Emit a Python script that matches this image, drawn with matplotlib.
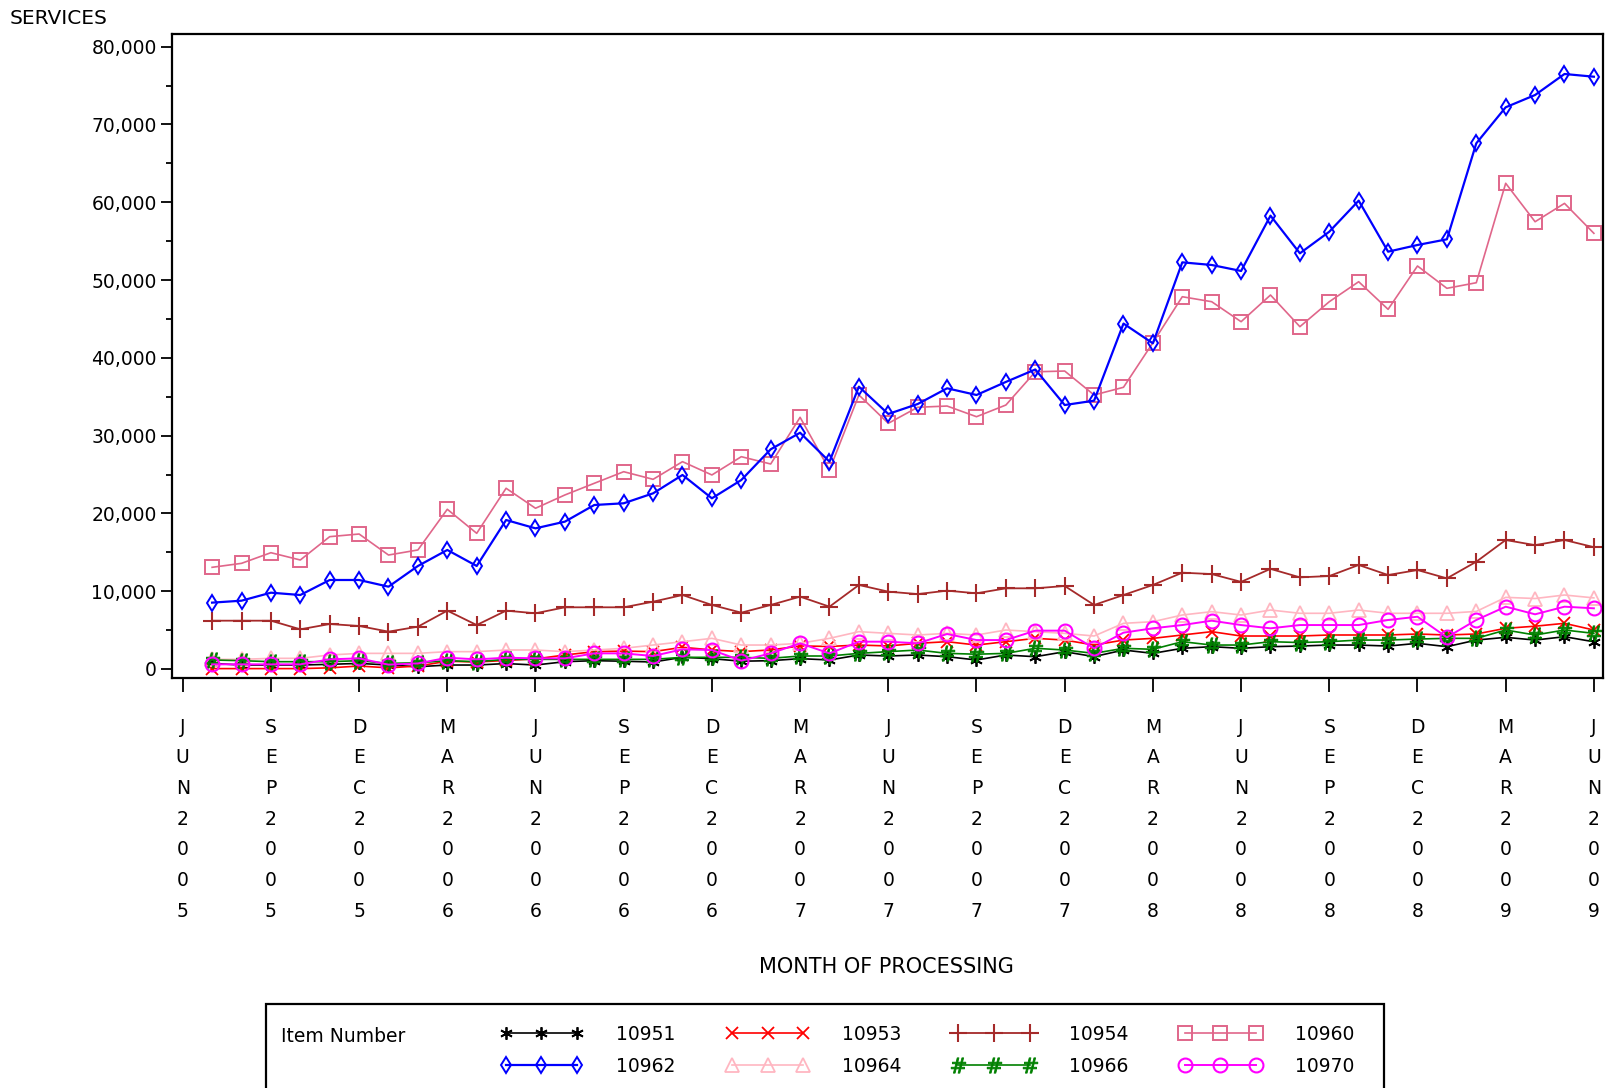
import numpy as np
import pandas as pd
import matplotlib
matplotlib.use("Agg")
import matplotlib.pyplot as plt
from matplotlib.lines import Line2D
from matplotlib.patches import Rectangle
from matplotlib.ticker import FuncFormatter, MultipleLocator

plt.rcParams["font.family"] = ["DejaVu Sans"]

# ---- data: monthly service counts per item number ----
months = pd.period_range("2005-07", "2009-06", freq="M")
tick_months = pd.period_range("2005-06", "2009-06", freq="M")[::3]

svc_10951 = [720, 510, 510, 510, 600, 720, 510, 290, 510, 510, 700, 510,
             940, 1070, 1000, 900, 1500, 1330, 1000, 1070, 1330, 1160, 1800, 1670,
             1800, 1580, 1160, 1800, 1580, 2220, 1590, 2440, 2010, 2660, 2870, 2660,
             2870, 2950, 3080, 3080, 2950, 3300, 2870, 3720, 4070, 3720, 4150, 3500]
svc_10953 = [50, 50, 50, 50, 150, 380, 150, 380, 1000, 900, 1100, 1300,
             1800, 2230, 2300, 2230, 2790, 2450, 2230, 2450, 2960, 2900, 3080, 2960,
             3300, 3510, 3080, 3510, 3940, 3720, 3080, 3720, 3940, 4370, 4800, 4240,
             4240, 4240, 4370, 4370, 4370, 4500, 4370, 4500, 5230, 5500, 5870, 5010]
svc_10954 = [6210, 6210, 6210, 5100, 5780, 5530, 4800, 5440, 7500, 5650, 7500, 7160,
             7930, 7930, 7930, 8650, 9510, 8230, 7240, 8230, 9300, 8010, 10800, 9940,
             9630, 10070, 9730, 10370, 10370, 10670, 8230, 9510, 10800, 12380, 12200, 11200,
             12870, 11780, 11950, 13370, 12080, 12720, 11650, 13790, 16580, 15920, 16580, 15660]
svc_10960 = [13070, 13580, 14950, 14010, 17010, 17350, 14650, 15300, 20530, 17440, 23230, 20660,
             22370, 23870, 25360, 24380, 26650, 24940, 27290, 26350, 32350, 25580, 35220, 31580,
             33640, 33800, 32430, 33930, 38200, 38300, 35220, 36210, 41940, 47850, 47210, 44640,
             48070, 44000, 47210, 49780, 46230, 51800, 48930, 49650, 62430, 57490, 59850, 56000]
svc_10962 = [8530, 8780, 9810, 9510, 11440, 11440, 10580, 13240, 15300, 13240, 19150, 18080,
             18940, 21080, 21300, 22580, 24940, 21940, 24290, 28240, 30370, 26650, 36290, 32780,
             34060, 36080, 35220, 36900, 38500, 33930, 34490, 44400, 41860, 52270, 51930, 51160,
             58270, 53430, 56210, 60200, 53640, 54500, 55230, 67570, 72200, 73780, 76480, 76130]
svc_10964 = [1240, 1240, 1370, 1370, 1800, 2010, 2010, 2010, 2230, 2230, 2440, 2440,
             2230, 2440, 2660, 3080, 3510, 3940, 3080, 3080, 3300, 3940, 4800, 4580,
             4370, 4580, 4370, 5010, 4800, 4580, 4240, 5870, 6080, 6940, 7370, 6940,
             7580, 7160, 7160, 7580, 7160, 7160, 7160, 7400, 9210, 9060, 9510, 9140]
svc_10966 = [1160, 1070, 940, 940, 940, 1070, 720, 800, 1070, 940, 1240, 1240,
             1240, 1240, 1240, 1240, 1500, 1500, 1500, 1370, 1670, 1670, 2010, 2230,
             2440, 2010, 1900, 2010, 2660, 2440, 2010, 2660, 2530, 3510, 3080, 3080,
             3510, 3400, 3510, 3720, 3720, 3850, 3940, 3940, 5010, 4370, 5010, 4580]
svc_10970 = [600, 600, 600, 600, 1240, 1370, 560, 720, 1450, 1240, 1450, 1370,
             1370, 2010, 2010, 1670, 2530, 2440, 1070, 2010, 3300, 2010, 3510, 3510,
             3300, 4500, 3720, 3720, 4930, 4930, 2660, 4670, 5230, 5650, 6210, 5650,
             5230, 5650, 5650, 5650, 6300, 6720, 4070, 6300, 8010, 7030, 8010, 7800]

item_numbers = ["10951", "10953", "10954", "10960", "10962", "10964", "10966", "10970"]
series = [svc_10951, svc_10953, svc_10954, svc_10960, svc_10962, svc_10964, svc_10966, svc_10970]

# ---- symbol styles per item ----
styles = {
    "10951": dict(color="black", marker=(6, 2, 0), ms=9, mew=1.3, mfc="black", lw=1.2),
    "10953": dict(color="#FF0000", marker="x", ms=9, mew=1.3, mfc="none", lw=1.2),
    "10954": dict(color="#A52A2A", marker="+", ms=13, mew=1.5, mfc="none", lw=1.3),
    "10960": dict(color="#E0668A", marker="s", ms=10, mew=1.4, mfc="none", lw=1.2),
    "10962": dict(color="#0000FF", marker="d", ms=8.5, mew=1.4, mfc="none", lw=1.6),
    "10964": dict(color="#FFB6C1", marker="^", ms=10, mew=1.3, mfc="none", lw=1.2),
    "10966": dict(color="#008000", marker="$\\#$", ms=11, mew=0.6, mfc="#008000", lw=1.2),
    "10970": dict(color="#FF00FF", marker="o", ms=10, mew=1.5, mfc="none", lw=1.4),
}

W, H = 1605, 1088
fig = plt.figure(figsize=(W / 100, H / 100), dpi=100)
fig.patch.set_facecolor("white")

left, right, top, bottom = 172, 1603, 34, 678
ax = fig.add_axes([left / W, 1 - bottom / H, (right - left) / W, (bottom - top) / H])

base = pd.Period("2005-06", freq="M")
xpos = [(p - base).n for p in months]
tick_pos = [(p - base).n for p in tick_months]
tick_lbl = ["\n".join(p.strftime("%b%Y").upper()) for p in tick_months]

handles = {}
for item, vals in zip(item_numbers, series):
    st = styles[item]
    (ln,) = ax.plot(xpos, vals, color=st["color"], lw=st["lw"], marker=st["marker"],
                    ms=st["ms"], mew=st["mew"], mfc=st["mfc"], mec=st["color"])
    handles[item] = ln

ax.set_xlim(-0.364, 48.31)
ax.set_ylim(-1157, 81620)

for sp in ax.spines.values():
    sp.set_linewidth(1.6)
    sp.set_color("black")

ax.yaxis.set_major_locator(MultipleLocator(10000))
ax.yaxis.set_minor_locator(MultipleLocator(5000))
ax.yaxis.set_major_formatter(FuncFormatter(lambda v, p: f"{int(v):,}"))
ax.tick_params(axis="y", which="major", length=8, width=1.3, direction="out", pad=3,
               labelsize=13.5)
ax.tick_params(axis="y", which="minor", length=4, width=1.3, direction="out")

ax.set_xticks(tick_pos)
ax.set_xticklabels(tick_lbl)
ax.tick_params(axis="x", which="major", length=10, width=1.3, direction="out", pad=18.5,
               labelsize=13.5)
for lbl in ax.get_xticklabels():
    lbl.set_linespacing(1.78)
    lbl.set_multialignment("center")

fig.text(10 / W, 1 - 18 / H, "SERVICES", ha="left", va="center", fontsize=14.5)
fig.text(886 / W, 1 - 967 / H, "MONTH OF PROCESSING", ha="center", va="center", fontsize=15)

# ---- legend panel ----
fig.add_artist(Rectangle((266 / W, 1 - 1110 / H), (1384 - 266) / W, (1110 - 1004) / H,
                         transform=fig.transFigure, fill=False, lw=1.6, ec="black",
                         clip_on=False))
fig.text(281 / W, 1 - 1036 / H, "Item Number", ha="left", va="center", fontsize=13.5)

order = ["10951", "10962", "10953", "10964", "10954", "10966", "10960", "10970"]
fig.legend([handles[k] for k in order], order, ncol=4, loc="upper left",
           bbox_to_anchor=(500 / W, 1 - 1025 / H), frameon=False, borderpad=0,
           borderaxespad=0, handlelength=4.4, handletextpad=1.8, columnspacing=2.7,
           labelspacing=0.68, numpoints=3, fontsize=13.5)

fig.savefig("out.png", dpi=100, facecolor="white")
